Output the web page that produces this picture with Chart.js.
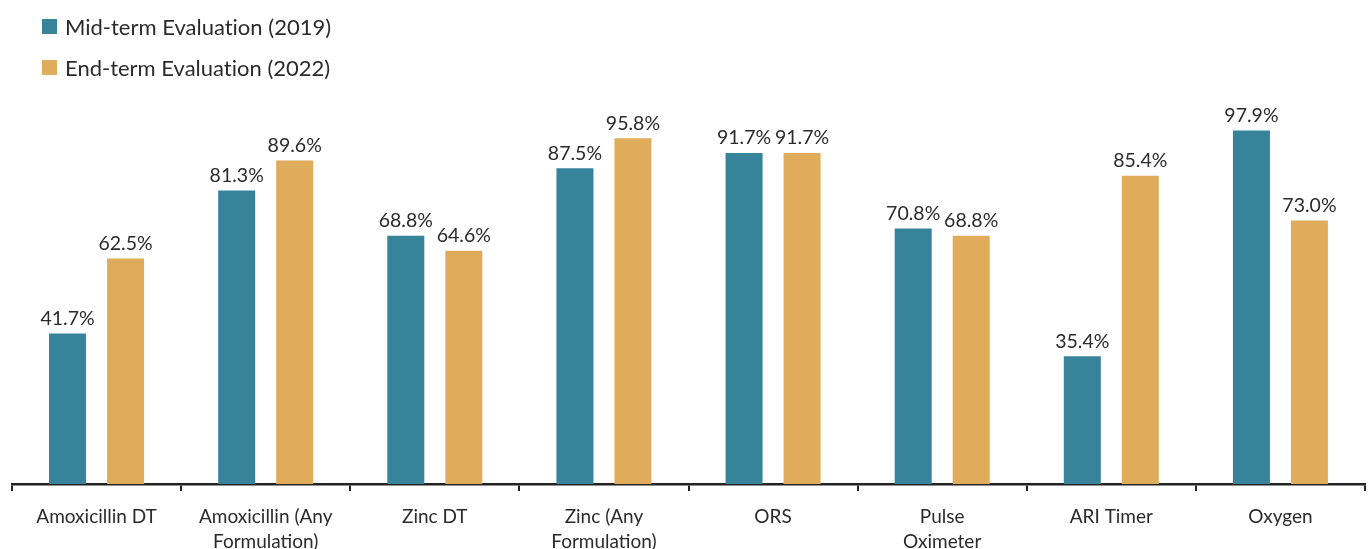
<!DOCTYPE html>
<html>
<head>
<meta charset="utf-8">
<script src="https://cdn.jsdelivr.net/npm/chart.js@4/dist/chart.umd.min.js"></script>
<style>
  html, body { margin: 0; padding: 0; background: #fff; }
  #wrap { position: relative; width: 1370px; height: 549px; overflow: hidden; }
  #legend { position: absolute; left: 42px; top: 12px; font-family: Lato, "Open Sans", sans-serif; font-size: 22px; color: #2b2b2b; font-variant-ligatures: none; }
  .item { display: flex; align-items: center; height: 28px; margin-bottom: 13px; }
  .swatch { width: 15px; height: 15px; margin-right: 8px; }
</style>
</head>
<body>
<div id="wrap">
  <canvas id="chart" width="1370" height="549"></canvas>
  <div id="legend"></div>
</div>
<script>
// Commodity availability by evaluation round (%)
const categories = [
  'Amoxicillin DT',
  ['Amoxicillin (Any', 'Formulation)'],
  'Zinc DT',
  ['Zinc (Any', 'Formulation)'],
  'ORS',
  ['Pulse', 'Oximeter'],
  'ARI Timer',
  'Oxygen'
];
const seriesNames = ['Mid-term Evaluation (2019)', 'End-term Evaluation (2022)'];
const midterm2019 = [41.7, 81.3, 68.8, 87.5, 91.7, 70.8, 35.4, 97.9];
const endterm2022 = [62.5, 89.6, 64.6, 95.8, 91.7, 68.8, 85.4, 73.0];
const seriesColors = ['#36839a', '#dfac5c'];

const FONT = 'Lato, "Open Sans", sans-serif';

// Legend stacked in two rows at the top left
const legendEl = document.getElementById('legend');
seriesNames.forEach((name, i) => {
  const row = document.createElement('div');
  row.className = 'item';
  const sw = document.createElement('span');
  sw.className = 'swatch';
  sw.style.background = seriesColors[i];
  const txt = document.createElement('span');
  txt.textContent = name;
  row.appendChild(sw);
  row.appendChild(txt);
  legendEl.appendChild(row);
});

// Percentage labels above each bar
const valueLabels = {
  id: 'valueLabels',
  afterDatasetsDraw(chart) {
    const ctx = chart.ctx;
    ctx.save();
    ctx.font = '19.5px ' + FONT;
    ctx.fillStyle = '#2b2b2b';
    ctx.textAlign = 'center';
    ctx.textBaseline = 'bottom';
    chart.data.datasets.forEach((ds, di) => {
      const meta = chart.getDatasetMeta(di);
      meta.data.forEach((bar, i) => {
        ctx.fillText(ds.data[i].toFixed(1) + '%', bar.x, bar.y - 5);
      });
    });
    ctx.restore();
  }
};

new Chart(document.getElementById('chart'), {
  type: 'bar',
  data: {
    labels: categories,
    datasets: [
      { label: seriesNames[0], data: midterm2019, backgroundColor: seriesColors[0] },
      { label: seriesNames[1], data: endterm2022, backgroundColor: seriesColors[1] }
    ]
  },
  options: {
    responsive: false,
    animation: false,
    datasets: { bar: { categoryPercentage: 0.686, barPercentage: 0.638 } },
    layout: { padding: { top: 123, left: 12, right: 5, bottom: 0 } },
    plugins: {
      legend: { display: false },
      tooltip: { enabled: false }
    },
    scales: {
      y: { display: false, min: 0, max: 100 },
      x: {
        afterFit(axis) { axis.height = 65; },
        border: { display: true, color: '#222', width: 2.5 },
        grid: {
          display: true,
          drawOnChartArea: false,
          drawTicks: true,
          tickLength: 7,
          color: '#222',
          lineWidth: 2
        },
        ticks: {
          padding: 14,
          color: '#2b2b2b',
          font: { family: FONT, size: 19, lineHeight: 1.3 },
          maxRotation: 0,
          autoSkip: false
        }
      }
    }
  },
  plugins: [valueLabels]
});
</script>
</body>
</html>
